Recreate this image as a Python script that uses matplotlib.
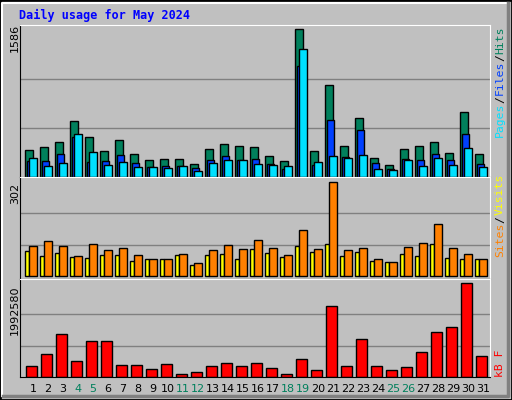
import numpy as np
import matplotlib
matplotlib.use('Agg')
import matplotlib.pyplot as plt
import matplotlib.transforms as mtransforms
from matplotlib.patches import Rectangle

days = list(range(1, 32))
weekend = [4, 5, 11, 12, 18, 19, 25, 26]
hits = [294, 319, 373, 606, 427, 276, 395, 251, 187, 197, 197, 144, 305, 359, 337, 319,
        230, 176, 1586, 283, 994, 337, 639, 208, 133, 305, 337, 380, 262, 703, 251]
files = [176, 176, 251, 427, 165, 176, 240, 154, 111, 122, 122, 100, 187, 230, 187, 197,
         144, 90, 1198, 133, 617, 219, 509, 154, 90, 197, 187, 251, 187, 466, 144]
pages = [208, 122, 154, 466, 273, 133, 165, 111, 111, 100, 122, 68, 154, 187, 187, 144,
         133, 122, 1371, 165, 230, 208, 240, 90, 79, 187, 122, 208, 133, 316, 111]
visits = [96, 113, 96, 63, 103, 83, 90, 67, 56, 56, 70, 43, 83, 100, 86, 116,
          90, 67, 149, 86, 302, 83, 90, 56, 46, 93, 106, 168, 90, 70, 56]
sites = [80, 63, 73, 60, 57, 67, 67, 47, 56, 54, 67, 37, 67, 70, 54, 86,
         73, 60, 96, 77, 103, 63, 77, 50, 44, 70, 63, 103, 57, 54, 54]
kbytes = [225000, 487000, 902000, 335000, 771000, 771000, 247000, 247000, 160000, 269000,
          73000, 116000, 225000, 291000, 225000, 291000, 182000, 73000, 378000, 138000,
          1491000, 225000, 814000, 225000, 138000, 204000, 531000, 945000, 1054000,
          1992580, 444000]

W, H = 512, 400
fig = plt.figure(figsize=(W / 100, H / 100), dpi=100)
fig.patch.set_facecolor('#c0c0c0')
mono = 'DejaVu Sans Mono'

def fx(px):
    return px / W

def fy(py):
    return 1 - py / H

# bevelled frame
fig.patches.append(Rectangle((0, 0), 1, 1, transform=fig.transFigure, fill=False,
                             edgecolor='black', lw=2))
fig.add_artist(plt.Line2D([fx(2), fx(2), fx(508)], [fy(396), fy(3), fy(3)], color='white', lw=1.5))
fig.add_artist(plt.Line2D([fx(3), fx(508), fx(508)], [fy(396), fy(396), fy(3)], color='#808080', lw=2.5))

x = np.array(days)
L, R = 20, 490
x0 = 0.4

def panel(top, bottom):
    ax = fig.add_axes([fx(L), fy(bottom), fx(R - L), (bottom - top) / H])
    ax.set_facecolor('#c0c0c0')
    ax.set_xlim(x0, x0 + (R - L) / 15)
    ax.set_xticks([])
    ax.set_yticks([])
    for s in ['left', 'bottom']:
        ax.spines[s].set_color('black')
    for s in ['top', 'right']:
        ax.spines[s].set_color('white')
    return ax

edge = dict(edgecolor='black', linewidth=1)

# hits / files / pages
ax1 = panel(25, 177)
for f in (1 / 3, 2 / 3):
    ax1.axhline(max(hits) * f, color='#808080', lw=1, zorder=0)
ax1.bar(x, hits, width=0.48, color='#00805c', **edge)
ax1.bar(x + 0.11, files, width=0.48, color='#0040ff', **edge)
ax1.bar(x + 0.27, pages, width=0.48, color='#00e0ff', **edge)
ax1.set_ylim(0, max(hits) * 1.03)

# sites / visits
ax2 = panel(177, 279)
for f in (1 / 3, 2 / 3):
    ax2.axhline(max(visits) * f, color='#808080', lw=1, zorder=0)
ax2.bar(x - 0.11, sites, width=0.27, color='#ffff00', **edge)
ax2.bar(x + 0.27, visits, width=0.49, color='#ff8000', **edge)
ax2.set_ylim(-max(visits) * 0.03, max(visits) * 1.05)

# kB
ax3 = panel(279, 377)
for f in (1 / 3, 2 / 3):
    ax3.axhline(max(kbytes) * f, color='#808080', lw=1, zorder=0)
ax3.bar(x + 0.17, kbytes, width=0.69, color='#ff0000', **edge)
ax3.set_ylim(0, max(kbytes) * 1.04)

trans = mtransforms.blended_transform_factory(ax3.transData, fig.transFigure)
for d in days:
    c = '#00805c' if d in weekend else 'black'
    fig.text(d + 0.27, fy(389), str(d), ha='center', va='center', fontsize=8,
             color=c, family='DejaVu Sans', transform=trans)

fig.text(fx(19), fy(15), 'Daily usage for May 2024', color='#0000ff', fontsize=8.5,
         family=mono, fontweight='bold', va='center', ha='left')
fig.text(fx(15), fy(38), '1586', rotation=90, fontsize=8, ha='center', va='center')
fig.text(fx(15), fy(193), '302', rotation=90, fontsize=8, ha='center', va='center')
fig.text(fx(15), fy(310), '1992580', rotation=90, fontsize=8, ha='center', va='center')

def right_label(items, ybottom):
    py = ybottom
    for txt, col in items:
        fig.text(fx(500), fy(py), txt, rotation=90, fontsize=8.2, color=col,
                 family=mono, ha='center', va='bottom')
        py -= len(txt) * 6.6 + 1

right_label([('Pages', '#00e0ff'), ('/', 'black'), ('Files', '#0040ff'),
             ('/', 'black'), ('Hits', '#00805c')], 137)
right_label([('Sites', '#ff8000'), ('/', 'black'), ('Visits', '#ffff00')], 257)
right_label([('kB F', '#ff0000')], 377)

fig.savefig('out.png', dpi=100, facecolor=fig.get_facecolor())
